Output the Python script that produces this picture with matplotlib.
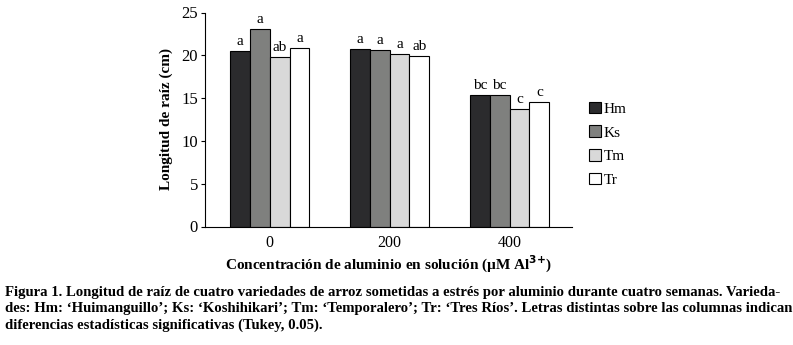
import numpy as np
import matplotlib.pyplot as plt

plt.rcParams['font.family'] = ['Liberation Serif', 'DejaVu Serif']

# Data
concentraciones = ['0', '200', '400']
variedades = ['Hm', 'Ks', 'Tm', 'Tr']
hm = [20.5, 20.7, 15.35]
ks = [23.1, 20.6, 15.35]
tm = [19.85, 20.1, 13.7]
tr = [20.8, 19.9, 14.5]
letras_hm = ['a', 'a', 'bc']
letras_ks = ['a', 'a', 'bc']
letras_tm = ['ab', 'a', 'c']
letras_tr = ['a', 'ab', 'c']

colores = ['#2b2b2d', '#7f807e', '#d9d9d9', '#ffffff']
series = [hm, ks, tm, tr]
letras = [letras_hm, letras_ks, letras_tm, letras_tr]

fig = plt.figure(figsize=(7.93, 3.45), dpi=100)
ax = fig.add_axes([205/793, 1 - 226.5/345, (572-205)/793, 214/345])

x = np.arange(len(concentraciones))
w = 0.165
for i, (vals, col, let) in enumerate(zip(series, colores, letras)):
    pos = x + (i - 1.5) * w
    ax.bar(pos, vals, width=w, color=col, edgecolor='black', linewidth=0.8,
           label=variedades[i])
    for p, v, l in zip(pos, vals, let):
        ax.text(p, v + 0.35, l, ha='center', va='bottom', fontsize=11)

ax.set_xlim(-0.54, 2.52)
ax.set_ylim(0, 25)
ax.set_yticks([0, 5, 10, 15, 20, 25])
ax.set_xticks(x)
ax.set_xticklabels(concentraciones)
ax.tick_params(axis='x', length=0, labelsize=11.5, pad=6)
ax.tick_params(axis='y', length=3, labelsize=12, pad=2)
ax.spines['top'].set_visible(False)
ax.spines['right'].set_visible(False)
ax.set_ylabel('Longitud de raíz (cm)', fontsize=11, fontweight='bold', labelpad=6)
ax.set_xlabel(r'Concentración de aluminio en solución (µM Al$^{\mathbf{3{+}}}$)',
              fontsize=11, fontweight='bold', labelpad=2)

fig.legend(loc='upper left', bbox_to_anchor=(575/793, 1 - 88/345), frameon=False,
           fontsize=11, handlelength=0.8, handleheight=0.8, handletextpad=0.2,
           labelspacing=0.62)

caption = ("Figura 1. Longitud de raíz de cuatro variedades de arroz sometidas a estrés por aluminio durante cuatro semanas. Varieda-\n"
           "des: Hm: ‘Huimanguillo’; Ks: ‘Koshihikari’; Tm: ‘Temporalero’; Tr: ‘Tres Ríos’. Letras distintas sobre las columnas indican\n"
           "diferencias estadísticas significativas (Tukey, 0.05).")
fig.text(5/793, 1 - 286/345, caption, ha='left', va='top', fontsize=10.6,
         fontweight='bold', linespacing=1.3)

fig.savefig('out.png', dpi=100)
